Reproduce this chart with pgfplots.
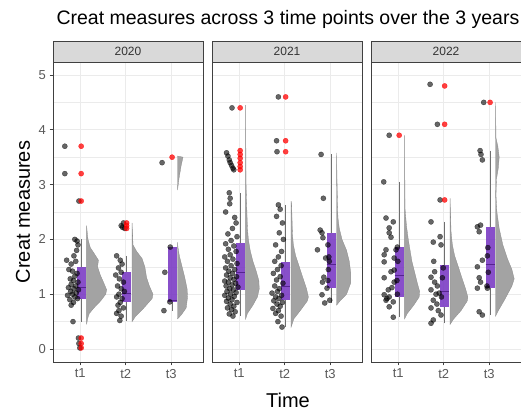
\documentclass[border=0pt]{standalone}
\usepackage{fontspec}
\setmainfont{Liberation Sans}
\usepackage{pgfplots}
\usepgfplotslibrary{statistics}
\pgfplotsset{compat=1.18}
\definecolor{gridc}{gray}{0.92}
\definecolor{panelb}{gray}{0.25}
\definecolor{stripf}{gray}{0.85}
\definecolor{tickc}{gray}{0.35}
\definecolor{boxpurple}{HTML}{7B3CC4}
\definecolor{medpurple}{HTML}{55248F}
\definecolor{densgray}{HTML}{A3A3A3}
\definecolor{whisk}{HTML}{6E6E6E}
\pgfplotsset{
  panel/.style={
    width=150pt, height=300pt, scale only axis, anchor=south west,
    xmin=0.4, xmax=3.7, ymin=-0.237, ymax=5.237,
    xtick={1,2,3}, xticklabels={t1,t2,t3},
    ytick={0,1,2,3,4,5}, minor ytick={0.5,1.5,2.5,3.5,4.5},
    grid=both, major grid style={gridc, line width=0.7pt},
    minor grid style={gridc, line width=0.35pt},
    axis line style={panelb, line width=0.7pt},
    tick pos=left, tick align=outside, major tick length=3.5pt, minor tick length=0pt,
    tick style={panelb, line width=0.6pt},
    ticklabel style={font=\fontsize{13}{13}\selectfont, text=tickc},
    /pgf/number format/assume math mode=true,
    clip=false,
  },
  jit/.style={only marks, mark=*, mark size=2.6pt,
    mark options={draw=black, fill=black, opacity=0.6, line width=0.3pt}},
  outl/.style={only marks, mark=*, mark size=2.6pt,
    mark options={draw=red, fill=red, opacity=0.75, line width=0.3pt}},
  dens/.style={fill=densgray, draw=densgray!85!black, line width=0.3pt},
  bx/.style={draw=whisk, line width=0.6pt, fill=boxpurple,
    boxplot/draw direction=y,
    boxplot/whisker extend=0, boxplot/box extend=0.2,
    boxplot/every box/.style={fill=boxpurple, draw=none, fill opacity=0.9},
    boxplot/every median/.style={draw=medpurple, line width=0.7pt}},
}
\newcommand{\strip}[1]{%
  \draw[panelb, fill=stripf, line width=0.7pt] (rel axis cs:0,1) rectangle ([yshift=21pt]rel axis cs:1,1);
  \node[font=\fontsize{12}{12}\selectfont, text=black!80] at ([yshift=10.5pt]rel axis cs:0.5,1) {#1};}
\begin{document}
\begin{tikzpicture}[x=1pt,y=1pt]
\path[use as bounding box] (0,0) rectangle (521,414);
% ---------------- 2020 ----------------
\begin{axis}[panel, at={(53pt,52pt)}]
\addplot[dens] coordinates {(1.14,0.45)(1.16,0.55)(1.20,0.65)(1.30,0.75)(1.45,0.88)(1.56,1.00)(1.58,1.08)(1.52,1.20)(1.44,1.35)(1.38,1.50)(1.40,1.62)(1.30,1.75)(1.22,1.85)(1.17,2.0)(1.15,2.15)(1.14,2.25)} -- cycle;
\addplot[dens] coordinates {(2.14,0.50)(2.22,0.60)(2.40,0.75)(2.58,0.92)(2.60,1.00)(2.52,1.15)(2.46,1.30)(2.42,1.50)(2.36,1.65)(2.24,1.78)(2.16,1.90)(2.14,2.30)} -- cycle;
\addplot[dens] coordinates {(3.14,0.55)(3.22,0.62)(3.33,0.75)(3.36,0.95)(3.35,1.10)(3.30,1.30)(3.24,1.50)(3.18,1.70)(3.15,1.85)(3.14,1.95)} -- cycle;
\addplot[dens] coordinates {(3.14,2.90)(3.17,3.10)(3.22,3.35)(3.26,3.50)(3.14,3.52)} -- cycle;
\addplot[jit] coordinates {(0.66,3.70)(0.66,3.20)(0.97,2.70)(0.96,0.20)(0.97,0.10)(0.99,0.02)(0.84,0.50)
(0.88,2.00)(0.93,1.97)(0.95,1.90)(0.92,1.80)(0.70,1.62)(0.86,1.70)(0.90,1.60)(0.80,1.55)(0.75,1.45)(0.83,1.42)(0.93,1.38)(0.88,1.33)(0.78,1.28)(0.85,1.25)(0.95,1.22)(0.80,1.18)(0.90,1.15)(0.74,1.12)(0.86,1.10)(0.96,1.08)(0.79,1.05)(0.91,1.02)(0.83,1.00)(0.72,0.98)(0.88,0.95)(0.94,0.92)(0.77,0.90)(0.85,0.85)(0.80,0.80)};
\addplot[jit] coordinates {(1.95,2.30)(1.90,2.25)(1.98,2.20)(1.93,2.22)(1.80,1.70)(1.88,1.62)(1.92,1.55)(1.84,1.48)(1.90,1.40)(1.78,1.35)(1.86,1.28)(1.95,1.22)(1.82,1.15)(1.90,1.10)(1.97,1.05)(1.85,1.00)(1.80,0.95)(1.92,0.92)(1.88,0.85)(1.83,0.80)(1.95,0.75)(1.85,0.70)(1.80,0.65)(1.90,0.60)(1.87,0.52)};
\addplot[jit] coordinates {(2.80,3.40)(2.86,1.40)(2.84,0.70)(2.97,0.86)(2.98,1.86)};
\addplot[bx, boxplot prepared={draw position=1.02, lower whisker=0.50, lower quartile=0.92, median=1.12, upper quartile=1.50, upper whisker=2.00}] coordinates {};
\addplot[bx, boxplot prepared={draw position=2.02, lower whisker=0.52, lower quartile=0.86, median=1.02, upper quartile=1.40, upper whisker=1.70}] coordinates {};
\addplot[bx, boxplot prepared={draw position=3.02, lower whisker=0.70, lower quartile=0.85, median=0.88, upper quartile=1.86, upper whisker=1.86}] coordinates {};
\addplot[outl] coordinates {(1.02,3.70)(1.02,3.20)(1.02,2.70)(1.02,0.20)(1.02,0.10)(1.02,0.02)};
\addplot[outl] coordinates {(2.02,2.30)(2.02,2.25)(2.02,2.20)};
\addplot[outl] coordinates {(3.02,3.50)};
\strip{2020}
\end{axis}
% ---------------- 2021 ----------------
\begin{axis}[panel, at={(212pt,52pt)}, yticklabels={}, ytick style={draw=none}]
\addplot[dens] coordinates {(1.14,0.55)(1.18,0.65)(1.30,0.80)(1.40,0.95)(1.44,1.10)(1.43,1.25)(1.38,1.40)(1.30,1.60)(1.24,1.80)(1.20,2.00)(1.18,2.20)(1.17,2.45)(1.16,2.70)(1.15,3.00)(1.145,3.60)(1.14,4.45)} -- cycle;
\addplot[dens] coordinates {(2.14,0.40)(2.20,0.55)(2.36,0.72)(2.50,0.88)(2.52,0.95)(2.48,1.10)(2.40,1.30)(2.32,1.50)(2.24,1.70)(2.19,1.90)(2.17,2.10)(2.16,2.40)(2.15,2.65)(2.14,2.70)} -- cycle;
\addplot[dens] coordinates {(3.14,0.80)(3.22,0.88)(3.36,1.00)(3.45,1.20)(3.45,1.40)(3.42,1.60)(3.36,1.80)(3.26,2.00)(3.20,2.20)(3.17,2.40)(3.16,2.70)(3.15,3.10)(3.14,3.58)} -- cycle;
\addplot[jit] coordinates {(0.84,4.40)(0.72,3.58)(0.75,3.52)(0.78,3.45)(0.80,3.40)(0.83,3.35)(0.86,3.30)(0.88,3.27)
(0.78,2.85)(0.80,2.75)(0.79,2.65)(0.70,2.50)(0.90,2.40)(0.93,2.30)(0.85,2.20)(0.75,2.10)(0.95,2.05)(0.82,1.98)(0.70,1.92)(0.88,1.88)(0.76,1.82)(0.93,1.78)(0.80,1.72)(0.68,1.68)(0.86,1.64)(0.74,1.60)(0.95,1.56)(0.82,1.52)(0.70,1.48)(0.90,1.45)(0.77,1.42)(0.85,1.38)(0.72,1.35)(0.94,1.32)(0.80,1.30)(0.88,1.27)(0.68,1.24)(0.76,1.22)(0.92,1.20)(0.84,1.17)(0.71,1.15)(0.97,1.13)(0.79,1.10)(0.87,1.08)(0.73,1.05)(0.93,1.03)(0.81,1.00)(0.68,0.98)(0.89,0.96)(0.76,0.93)(0.84,0.90)(0.72,0.87)(0.95,0.85)(0.80,0.82)(0.88,0.78)(0.74,0.75)(0.83,0.72)(0.91,0.68)(0.78,0.64)(0.86,0.60)};
\addplot[jit] coordinates {(1.86,4.60)(1.82,3.80)(1.83,3.60)
(1.86,2.63)(1.90,2.55)(1.82,2.42)(1.95,2.30)(1.88,2.12)(1.97,2.00)(1.80,1.90)(1.93,1.78)(1.86,1.68)(1.78,1.60)(1.92,1.52)(1.84,1.45)(1.75,1.38)(1.90,1.32)(1.82,1.26)(1.96,1.20)(1.78,1.15)(1.88,1.10)(1.84,1.05)(1.72,1.02)(1.93,0.98)(1.80,0.95)(1.87,0.92)(1.76,0.88)(1.95,0.85)(1.83,0.82)(1.90,0.78)(1.74,0.74)(1.86,0.70)(1.80,0.65)(1.92,0.60)(1.85,0.50)(1.94,0.40)};
\addplot[jit] coordinates {(2.80,3.55)(2.85,2.75)(2.78,2.17)(2.82,2.12)(2.84,2.03)(2.72,1.81)(2.90,1.66)(2.95,1.90)(2.97,1.68)(2.98,1.60)(2.96,1.45)(2.86,1.31)(2.83,1.22)(2.93,1.11)(2.82,0.99)(2.88,0.84)(2.99,0.89)(2.95,1.25)};
\addplot[bx, boxplot prepared={draw position=1.02, lower whisker=0.60, lower quartile=1.08, median=1.40, upper quartile=1.93, upper whisker=2.85}] coordinates {};
\addplot[bx, boxplot prepared={draw position=2.02, lower whisker=0.40, lower quartile=0.89, median=1.15, upper quartile=1.59, upper whisker=2.63}] coordinates {};
\addplot[bx, boxplot prepared={draw position=3.02, lower whisker=0.84, lower quartile=1.11, median=1.55, upper quartile=2.12, upper whisker=3.55}] coordinates {};
\addplot[outl] coordinates {(1.02,4.40)(1.02,3.62)(1.02,3.55)(1.02,3.48)(1.02,3.40)(1.02,3.33)(1.02,3.27)};
\addplot[outl] coordinates {(2.02,4.60)(2.02,3.80)(2.02,3.60)};
\strip{2021}
\end{axis}
% ---------------- 2022 ----------------
\begin{axis}[panel, at={(371pt,52pt)}, yticklabels={}, ytick style={draw=none}]
\addplot[dens] coordinates {(1.14,0.55)(1.20,0.65)(1.34,0.80)(1.46,0.95)(1.47,1.05)(1.42,1.20)(1.36,1.40)(1.30,1.60)(1.26,1.80)(1.22,2.00)(1.18,2.25)(1.15,2.55)(1.145,3.00)(1.14,3.90)} -- cycle;
\addplot[dens] coordinates {(2.14,0.45)(2.22,0.55)(2.38,0.70)(2.52,0.88)(2.53,0.95)(2.48,1.10)(2.40,1.30)(2.32,1.50)(2.24,1.70)(2.19,1.90)(2.16,2.15)(2.15,2.45)(2.14,2.75)} -- cycle;
\addplot[dens] coordinates {(3.14,0.60)(3.20,0.70)(3.34,0.90)(3.50,1.15)(3.55,1.28)(3.50,1.45)(3.40,1.65)(3.30,1.90)(3.22,2.20)(3.17,2.50)(3.15,2.80)(3.16,3.10)(3.20,3.30)(3.22,3.50)(3.19,3.70)(3.15,3.85)(3.14,4.50)} -- cycle;
\addplot[jit] coordinates {(0.80,3.90)(0.68,3.05)
(0.73,2.39)(0.89,2.32)(0.80,2.21)(0.80,2.12)(0.84,2.04)(0.73,1.81)(0.95,1.81)(0.69,1.72)(0.91,1.66)(0.69,1.59)(0.91,1.44)(0.84,1.41)(0.69,1.30)(0.91,1.22)(0.78,1.08)(0.69,0.99)(0.80,0.95)(0.73,0.89)(0.89,0.86)(0.80,0.77)(0.89,0.58)(0.98,1.86)(0.99,1.60)(0.97,1.25)(0.98,1.00)(0.75,0.92)(0.86,1.12)};
\addplot[jit] coordinates {(1.70,4.83)(1.86,4.10)(1.92,2.72)
(1.72,2.32)(1.77,1.95)(1.94,1.90)(1.99,1.48)(1.80,1.41)(1.72,1.31)(1.80,1.22)(1.86,1.15)(1.72,1.08)(1.83,1.00)(1.77,0.89)(1.72,0.75)(1.88,0.70)(1.94,0.62)(1.77,0.53)(1.72,0.47)(1.97,1.30)(1.90,1.02)(1.85,0.82)(1.95,0.95)(1.78,1.60)(1.92,2.05)};
\addplot[jit] coordinates {(2.88,4.50)(2.80,3.62)(2.82,3.55)(2.85,3.45)
(2.74,2.23)(2.81,2.26)(2.78,2.14)(2.74,1.50)(2.85,1.62)(2.78,1.30)(2.81,1.22)(2.74,1.11)(2.96,1.11)(2.78,0.68)(2.85,0.62)(2.97,1.85)(2.98,1.40)(2.96,1.70)(2.95,1.15)};
\addplot[bx, boxplot prepared={draw position=1.02, lower whisker=0.58, lower quartile=0.95, median=1.35, upper quartile=1.86, upper whisker=3.05}] coordinates {};
\addplot[bx, boxplot prepared={draw position=2.02, lower whisker=0.47, lower quartile=0.77, median=1.05, upper quartile=1.53, upper whisker=2.32}] coordinates {};
\addplot[bx, boxplot prepared={draw position=3.02, lower whisker=0.62, lower quartile=1.11, median=1.55, upper quartile=2.23, upper whisker=3.62}] coordinates {};
\addplot[outl] coordinates {(1.02,3.90)};
\addplot[outl] coordinates {(2.02,4.80)(2.02,4.10)(2.02,2.72)};
\addplot[outl] coordinates {(3.02,4.50)};
\strip{2022}
\end{axis}
% ---------------- titles ----------------
\node[anchor=west, font=\fontsize{19.5}{19.5}\selectfont] at (53,395) {Creat measures across 3 time points over the 3 years};
\node[rotate=90, font=\fontsize{20}{20}\selectfont] at (23,202) {Creat measures};
\node[font=\fontsize{20}{20}\selectfont] at (288,14) {Time};
\end{tikzpicture}
\end{document}
